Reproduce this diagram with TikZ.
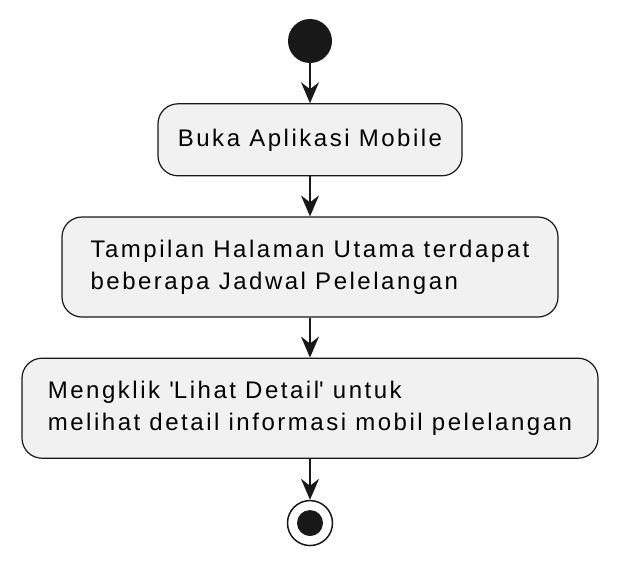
\documentclass[tikz,border=0pt]{standalone}
\usepackage{fontspec}
\setmainfont[LetterSpace=10.5]{Liberation Sans}
\usetikzlibrary{positioning,arrows.meta}
\definecolor{umlfill}{HTML}{F1F1F1}
\definecolor{umlline}{HTML}{181818}
\tikzset{
  action/.style={draw=umlline,fill=umlfill,line width=1.2pt,rounded corners=20pt,
    align=left,font=\fontsize{24}{32}\selectfont,inner sep=0pt},
  flow/.style={draw=umlline,line width=1.5pt,-{Stealth[length=21pt,width=18pt,inset=7pt]}}
}
\begin{document}
\begin{tikzpicture}[x=1pt,y=-1pt,node distance=40pt]
	\useasboundingbox (0,0) rectangle (621,565);
	\node[circle,fill=umlline,minimum size=44pt,inner sep=0pt] (start) at (310,41) {};
	\node[action,below=of start,minimum width=304pt,minimum height=72pt] (buka) {Buka Aplikasi Mobile};
	\node[action,below=of buka,minimum width=496pt,minimum height=100pt] (tampil) {Tampilan Halaman Utama terdapat\\beberapa Jadwal Pelelangan};
	\node[action,below=of tampil,minimum width=576pt,minimum height=100pt] (klik) {Mengklik \textquotesingle Lihat Detail\textquotesingle{} untuk\\melihat detail informasi mobil pelelangan};
	\node[circle,draw=umlline,line width=1.5pt,minimum size=45pt,inner sep=0pt,below=41pt of klik] (stop) {};
	\fill[umlline] (stop.center) circle (13pt);
	%\draw (start) -- (buka);
	\draw[flow] (start) -- (buka);
	\draw[flow] (buka) -- (tampil);
	\draw[flow] (tampil) -- (klik);
	\draw[flow] (klik) -- (stop);
\end{tikzpicture}
\end{document}
